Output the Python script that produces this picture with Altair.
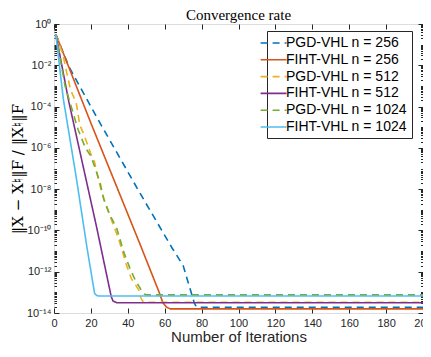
import json
import altair as alt
import pandas as pd

# ---- data (error values given as log10 exponents) ----
series_names = ["PGD-VHL n = 256", "FIHT-VHL n = 256", "PGD-VHL n = 512",
                "FIHT-VHL n = 512", "PGD-VHL n = 1024", "FIHT-VHL n = 1024"]
series_colors = ["#0072BD", "#D95319", "#EDB120", "#7E2F8E", "#77AC30", "#4DBEEE"]
series_dash = [[7, 5], [1, 0], [7, 5], [1, 0], [7, 5], [1, 0]]

pgd256_iter = [1, 8, 24, 46, 64, 70, 72, 74, 76, 77, 78, 200]
pgd256_log10 = [-0.5, -2.05, -4.65, -8.1, -10.85, -11.7, -12.3, -12.9, -13.5, -13.68, -13.72, -13.72]

fiht256_iter = [1, 20, 47, 57, 59, 61, 63, 200]
fiht256_log10 = [-0.5, -4.8, -10.75, -13.0, -13.5, -13.72, -13.8, -13.8]

pgd512_iter = [1, 3, 5, 7, 9, 12, 14, 16, 18, 20, 22, 24, 26, 29, 32, 35, 37, 39,
               42, 44, 46, 47, 48, 49, 200]
pgd512_log10 = [-0.5, -1.0, -1.55, -2.4, -3.2, -3.8, -4.9, -5.3, -5.8, -6.3, -6.7,
                -7.5, -8.2, -8.95, -9.7, -10.4, -11.0, -11.6, -12.35, -12.6, -12.9,
                -13.25, -13.42, -13.48, -13.48]

fiht512_iter = [1, 8, 23, 31, 32, 34, 200]
fiht512_log10 = [-0.5, -3.75, -9.8, -13.2, -13.42, -13.5, -13.5]

pgd1024_iter = [1, 4, 6, 10, 13, 17, 20, 22, 25, 27, 30, 34, 38, 41, 44, 47, 49, 50, 200]
pgd1024_log10 = [-0.5, -2.0, -3.0, -4.2, -5.1, -6.0, -6.4, -6.9, -7.7, -8.5, -9.2,
                 -9.9, -11.1, -11.8, -12.4, -12.85, -13.08, -13.12, -13.12]

fiht1024_iter = [1, 5, 12, 18, 22, 23, 24, 200]
fiht1024_log10 = [-0.5, -3.6, -7.4, -10.9, -13.05, -13.14, -13.18, -13.18]

x_ticks = list(range(0, 201, 20))
y_major = [10.0 ** -k for k in range(0, 15, 2)]
y_major_labels = ["10⁰", "10⁻²", "10⁻⁴", "10⁻⁶", "10⁻⁸", "10⁻¹⁰", "10⁻¹²", "10⁻¹⁴"]
y_minor = [m * 10.0 ** k for k in range(-14, 0) for m in range(1, 10)
           if not (m == 1 and k % 2 == 0)]

all_iters = [pgd256_iter, fiht256_iter, pgd512_iter, fiht512_iter, pgd1024_iter, fiht1024_iter]
all_logs = [pgd256_log10, fiht256_log10, pgd512_log10, fiht512_log10, pgd1024_log10, fiht1024_log10]

rows = []
for name, its, logs in zip(series_names, all_iters, all_logs):
    for k, e in zip(its, logs):
        rows.append({"series": name, "iter": k, "err": 10.0 ** e})
df = pd.DataFrame(rows)

AX = "#262626"
SANS = "Liberation Sans"
SERIF = "Liberation Serif"

xscale = alt.Scale(domain=[0, 200], nice=False, zero=False)
yscale = alt.Scale(type="log", domain=[1e-14, 1], nice=False)

label_expr = json.dumps(y_major_labels, ensure_ascii=False) + "[round(-log(datum.value)/LN10/2)]"

legend = alt.Legend(title=None, orient="none", legendX=213, legendY=7,
                    fillColor="white", strokeColor=AX, padding=4,
                    symbolType="M-1.2,0H2.5", symbolSize=196, symbolStrokeWidth=1.6,
                    symbolOffset=-10,
                    labelFont=SANS, labelFontSize=14, labelColor="black",
                    rowPadding=1.8, labelOffset=9)

base = alt.Chart(df)

lines = base.mark_line(strokeWidth=1.6, clip=True).encode(
    x=alt.X("iter:Q", scale=xscale,
            axis=alt.Axis(orient="bottom", values=x_ticks, title="Number of Iterations",
                          offset=-5, tickSize=5, domain=False, grid=False, labelFlush=False,
                          tickColor=AX, labelColor=AX, labelFont=SANS, labelFontSize=11,
                          labelPadding=4, titleFont=SANS, titleFontSize=15,
                          titleFontWeight="normal", titleColor=AX, titlePadding=1)),
    y=alt.Y("err:Q", scale=yscale,
            axis=alt.Axis(orient="left", values=y_major, labelExpr=label_expr,
                          title="‖X − X♮‖F / ‖X♮‖F",
                          offset=-5, tickSize=5, domain=False, grid=False,
                          tickColor=AX, labelColor=AX, labelFont=SANS, labelFontSize=11,
                          labelPadding=3, titleFont="DejaVu Serif", titleFontSize=15,
                          titleFontWeight="normal", titleColor="black", titlePadding=1)),
    color=alt.Color("series:N", scale=alt.Scale(domain=series_names, range=series_colors),
                    legend=legend),
    strokeDash=alt.StrokeDash("series:N", scale=alt.Scale(domain=series_names, range=series_dash),
                              legend=legend),
)

ghost1 = base.mark_line(opacity=0).encode(
    x=alt.X("iter:Q", scale=xscale,
            axis=alt.Axis(orient="top", values=x_ticks, labels=False, title=None,
                          offset=-5, tickSize=5, domain=False, grid=False, tickColor=AX)),
    y=alt.Y("err:Q", scale=yscale,
            axis=alt.Axis(orient="left", values=y_minor, labels=False, title=None,
                          offset=-2.5, tickSize=2.5, domain=False, grid=False, tickColor=AX)),
)
ghost2 = base.mark_line(opacity=0).encode(
    x=alt.X("iter:Q", scale=xscale, axis=None),
    y=alt.Y("err:Q", scale=yscale,
            axis=alt.Axis(orient="right", values=y_major, labels=False, title=None,
                          offset=-5, tickSize=5, domain=False, grid=False, tickColor=AX)),
)
ghost3 = base.mark_line(opacity=0).encode(
    x=alt.X("iter:Q", scale=xscale, axis=None),
    y=alt.Y("err:Q", scale=yscale,
            axis=alt.Axis(orient="right", values=y_minor, labels=False, title=None,
                          offset=-2.5, tickSize=2.5, domain=False, grid=False, tickColor=AX)),
)

chart = alt.layer(lines, ghost1, ghost2, ghost3).resolve_axis(
    x="independent", y="independent"
).properties(
    width=369, height=289,
    title=alt.TitleParams("Convergence rate", font=SERIF, fontSize=15,
                          fontWeight="normal", color="black", offset=0, dy=4.5),
    autosize=alt.AutoSizeParams(type="none"),
    padding={"left": 46, "top": 16, "right": 0, "bottom": 31},
).configure_view(stroke=AX, strokeWidth=0.9).configure(background="white")

chart.save("out.html", embed_options={"renderer": "svg", "actions": False})
